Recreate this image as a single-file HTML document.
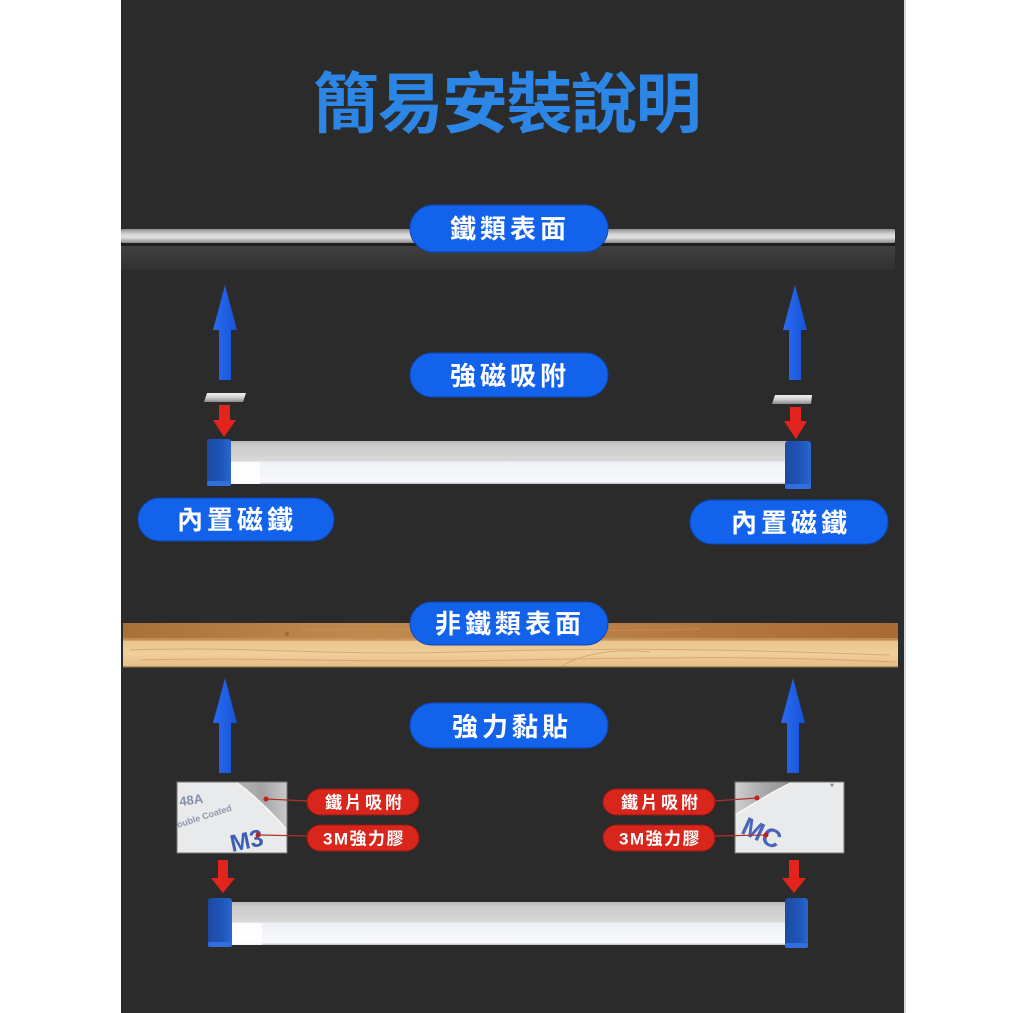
<!DOCTYPE html>
<html><head><meta charset="utf-8"><style>
html,body{margin:0;padding:0;background:#fff;}
svg{display:block;}
text{font-family:"Liberation Sans","Noto Sans CJK TC","Noto Sans CJK SC",sans-serif;font-weight:bold;}
</style></head><body>
<svg width="1024" height="1013" viewBox="0 0 1024 1013" xmlns="http://www.w3.org/2000/svg">
<defs>
<linearGradient id="iron" x1="0" y1="0" x2="0" y2="1">
<stop offset="0" stop-color="#8e8e8e"/><stop offset="0.35" stop-color="#d2d2d2"/><stop offset="0.6" stop-color="#e2e2e2"/><stop offset="1" stop-color="#8a8a8a"/>
</linearGradient>
<linearGradient id="band" x1="0" y1="0" x2="0" y2="1">
<stop offset="0" stop-color="#404040"/><stop offset="1" stop-color="#313131"/>
</linearGradient>
<linearGradient id="tube" x1="0" y1="0" x2="0" y2="1">
<stop offset="0" stop-color="#b9b9b9"/><stop offset="0.1" stop-color="#cbcbcb"/><stop offset="0.45" stop-color="#d8d8d8"/><stop offset="0.5" stop-color="#eef1f6"/><stop offset="0.95" stop-color="#f8f9fc"/><stop offset="1" stop-color="#b8bcc4"/>
</linearGradient>
<linearGradient id="cap" x1="0" y1="0" x2="1" y2="0">
<stop offset="0" stop-color="#1c4aa2"/><stop offset="0.6" stop-color="#1f56b8"/><stop offset="1" stop-color="#2a66cf"/>
</linearGradient>
<linearGradient id="woodTop" x1="0" y1="0" x2="1" y2="0">
<stop offset="0" stop-color="#a9703a"/><stop offset="0.3" stop-color="#c08a4e"/><stop offset="0.6" stop-color="#b98045"/><stop offset="1" stop-color="#a86a34"/>
</linearGradient>
<linearGradient id="woodBot" x1="0" y1="0" x2="0" y2="1">
<stop offset="0" stop-color="#e9c38c"/><stop offset="0.5" stop-color="#f0cf9c"/><stop offset="1" stop-color="#e6bd86"/>
</linearGradient>
<linearGradient id="blueArr" x1="0" y1="0" x2="1" y2="0">
<stop offset="0" stop-color="#2a6cf0"/><stop offset="1" stop-color="#1652d8"/>
</linearGradient>
<linearGradient id="plate" x1="0" y1="0" x2="0" y2="1">
<stop offset="0" stop-color="#f2f2f2"/><stop offset="0.5" stop-color="#cfcfcf"/><stop offset="1" stop-color="#8a8a8a"/>
</linearGradient>
<linearGradient id="tapeGrayL" x1="0" y1="0" x2="1" y2="0">
<stop offset="0" stop-color="#b8b8b8"/><stop offset="0.5" stop-color="#a4a4a4"/><stop offset="1" stop-color="#c9c9c9"/>
</linearGradient>
<linearGradient id="tapeGrayR" x1="0" y1="0" x2="1" y2="0">
<stop offset="0" stop-color="#d0d0d0"/><stop offset="0.5" stop-color="#a8a8a8"/><stop offset="1" stop-color="#8e8e8e"/>
</linearGradient>
</defs>

<!-- dark panel -->
<rect x="121" y="0" width="783" height="1013" fill="#2b2b2b"/>
<rect x="904" y="0" width="2" height="1013" fill="#d8d8d8"/>

<!-- title -->
<text x="313" y="127" font-size="66" fill="#2b86e6" letter-spacing="-1.5">簡易安裝說明</text>

<!-- iron surface -->
<rect x="121" y="243" width="774" height="3" fill="#1f1f1f"/>
<rect x="121" y="246" width="774" height="24" fill="url(#band)"/>
<rect x="121" y="229" width="774" height="14" rx="2" fill="url(#iron)"/>

<!-- pill 鐵類表面 -->
<rect x="410" y="205" width="198" height="47" rx="23.5" fill="#1262ec" stroke="#0b47b8" stroke-width="1"/>
<text x="510" y="238" font-size="26" fill="#fff" text-anchor="middle" letter-spacing="4">鐵類表面</text>

<!-- blue up arrows (top) -->
<polygon points="225,285 237,330 231,330 231,380 219,380 219,330 213,330" fill="url(#blueArr)"/>
<polygon points="795,285 807,330 801,330 801,380 789,380 789,330 783,330" fill="url(#blueArr)"/>

<!-- pill 強磁吸附 -->
<rect x="410" y="353" width="198" height="44" rx="22" fill="#1262ec" stroke="#0b47b8" stroke-width="1"/>
<text x="510" y="385" font-size="26" fill="#fff" text-anchor="middle" letter-spacing="4">強磁吸附</text>

<!-- silver plates -->
<polygon points="207,393 246,393 243,402 204,402" fill="url(#plate)"/>
<polygon points="775,395 812,395 811,404 772,404" fill="url(#plate)"/>

<!-- red down arrows (top) -->
<polygon points="219,405 230,405 230,420 236,420 224,437 213,420 219,420" fill="#e3241d"/>
<polygon points="790,407 801,407 801,421 807,421 796,439 784,421 790,421" fill="#e3241d"/>

<!-- light tube 1 -->
<rect x="228" y="441" width="559" height="43" fill="url(#tube)"/>
<rect x="230" y="462" width="30" height="22" fill="#ffffff" opacity="0.8"/>
<rect x="207" y="439" width="24" height="47" rx="3" fill="url(#cap)"/>
<rect x="207" y="481" width="24" height="5" rx="2" fill="#2f6fe0"/>
<rect x="785" y="441" width="26" height="48" rx="3" fill="url(#cap)"/>
<rect x="785" y="484" width="26" height="5" rx="2" fill="#2f6fe0"/>

<!-- pills 內置磁鐵 -->
<rect x="138" y="498" width="196" height="43" rx="21.5" fill="#1262ec" stroke="#0b47b8" stroke-width="1"/>
<text x="237" y="529" font-size="26" fill="#fff" text-anchor="middle" letter-spacing="4">內置磁鐵</text>
<rect x="690" y="500" width="198" height="44" rx="22" fill="#1262ec" stroke="#0b47b8" stroke-width="1"/>
<text x="791" y="532" font-size="26" fill="#fff" text-anchor="middle" letter-spacing="4">內置磁鐵</text>

<!-- wood surface -->
<rect x="123" y="623" width="775" height="17" fill="url(#woodTop)"/>
<rect x="123" y="640" width="775" height="27" fill="url(#woodBot)"/>
<rect x="123" y="638" width="775" height="3" fill="#c99a60" opacity="0.7"/>
<g fill="none" stroke="#c8955a" stroke-width="1" opacity="0.6">
<path d="M130,650 C250,646 330,656 460,652 S700,648 890,655"/>
<path d="M140,660 C260,657 360,663 520,660 S760,656 895,662"/>
<path d="M560,667 C580,655 610,648 650,652"/>
<path d="M300,630 C400,628 520,633 700,629"/>
</g>
<circle cx="287" cy="634" r="2" fill="#8a5a2a" opacity="0.6"/>
<rect x="123" y="666" width="775" height="2" fill="#8a6a44" opacity="0.6"/>

<!-- pill 非鐵類表面 -->
<rect x="410" y="602" width="198" height="43" rx="21.5" fill="#1262ec" stroke="#0b47b8" stroke-width="1"/>
<text x="510" y="633" font-size="26" fill="#fff" text-anchor="middle" letter-spacing="4">非鐵類表面</text>

<!-- blue up arrows (bottom) -->
<polygon points="225,678 237,723 231,723 231,773 219,773 219,723 213,723" fill="url(#blueArr)"/>
<polygon points="793,678 805,723 799,723 799,773 787,773 787,723 781,723" fill="url(#blueArr)"/>

<!-- pill 強力黏貼 -->
<rect x="410" y="703" width="198" height="45" rx="22.5" fill="#1262ec" stroke="#0b47b8" stroke-width="1"/>
<text x="512" y="736" font-size="26" fill="#fff" text-anchor="middle" letter-spacing="4">強力黏貼</text>

<!-- left tape image -->
<g>
<rect x="177" y="782" width="110" height="71" fill="#e9eaec"/>
<path d="M236,782 C250,792 268,808 287,830 L287,782 Z" fill="url(#tapeGrayL)"/>
<path d="M236,782 C250,792 268,808 287,830" fill="none" stroke="#f6f6f6" stroke-width="1.5"/>
<text x="180" y="806" font-size="13" fill="#8592ad" style="font-weight:bold" transform="rotate(-8 180 806)">48A</text>
<text x="178" y="828" font-size="9" fill="#8d98b0" transform="rotate(-18 178 828)">ouble Coated</text>
<text x="232" y="852" font-size="24" fill="#3e5fb4" transform="rotate(-12 232 852)">M3</text>
<rect x="177" y="782" width="110" height="71" fill="none" stroke="#777" stroke-width="1"/>
</g>
<!-- left connectors -->
<line x1="266" y1="799" x2="308" y2="801" stroke="#b0302a" stroke-width="1.2"/>
<circle cx="266" cy="799" r="2.5" fill="#c0201a"/>
<line x1="258" y1="835" x2="308" y2="836" stroke="#b0302a" stroke-width="1.2"/>
<circle cx="258" cy="835" r="2.5" fill="#c0201a"/>

<!-- red pills left -->
<rect x="307" y="789" width="112" height="26" rx="13" fill="#d9261c" stroke="#9c1610" stroke-width="1"/>
<text x="365" y="808.5" font-size="17" fill="#fff" text-anchor="middle" letter-spacing="3">鐵片吸附</text>
<rect x="307" y="825" width="112" height="26" rx="13" fill="#d9261c" stroke="#9c1610" stroke-width="1"/>
<text x="364" y="844.5" font-size="17" fill="#fff" text-anchor="middle" letter-spacing="1.5">3M強力膠</text>

<!-- right tape image -->
<g>
<rect x="735" y="782" width="109" height="71" fill="#e9eaec"/>
<path d="M735,782 L793,782 C775,790 760,800 735,815 Z" fill="url(#tapeGrayR)"/>
<path d="M793,782 C775,790 760,800 735,815" fill="none" stroke="#f6f6f6" stroke-width="1.5"/>
<text x="742" y="842" font-size="26" fill="#4a66b8" transform="rotate(25 762 832)">MC</text>
<circle cx="832" cy="785" r="1.5" fill="#888"/>
<rect x="735" y="782" width="109" height="71" fill="none" stroke="#777" stroke-width="1"/>
</g>
<!-- right connectors -->
<line x1="714" y1="801" x2="757" y2="798" stroke="#b0302a" stroke-width="1.2"/>
<circle cx="757" cy="798" r="2.5" fill="#c0201a"/>
<line x1="714" y1="836" x2="766" y2="835" stroke="#b0302a" stroke-width="1.2"/>
<circle cx="766" cy="835" r="2.5" fill="#c0201a"/>

<!-- red pills right -->
<rect x="603" y="789" width="112" height="26" rx="13" fill="#d9261c" stroke="#9c1610" stroke-width="1"/>
<text x="661" y="808.5" font-size="17" fill="#fff" text-anchor="middle" letter-spacing="3">鐵片吸附</text>
<rect x="603" y="825" width="112" height="26" rx="13" fill="#d9261c" stroke="#9c1610" stroke-width="1"/>
<text x="660" y="844.5" font-size="17" fill="#fff" text-anchor="middle" letter-spacing="1.5">3M強力膠</text>

<!-- red down arrows (bottom) -->
<polygon points="218,860 228,860 228,878 235,878 223,893 211,878 218,878" fill="#e3241d"/>
<polygon points="789,860 799,860 799,878 806,878 794,893 782,878 789,878" fill="#e3241d"/>

<!-- light tube 2 -->
<rect x="230" y="902" width="557" height="43" fill="url(#tube)"/>
<rect x="232" y="923" width="30" height="22" fill="#ffffff" opacity="0.8"/>
<rect x="208" y="898" width="24" height="49" rx="3" fill="url(#cap)"/>
<rect x="208" y="942" width="24" height="5" rx="2" fill="#2f6fe0"/>
<rect x="785" y="898" width="23" height="50" rx="3" fill="url(#cap)"/>
<rect x="785" y="943" width="23" height="5" rx="2" fill="#2f6fe0"/>
</svg>
</body></html>
